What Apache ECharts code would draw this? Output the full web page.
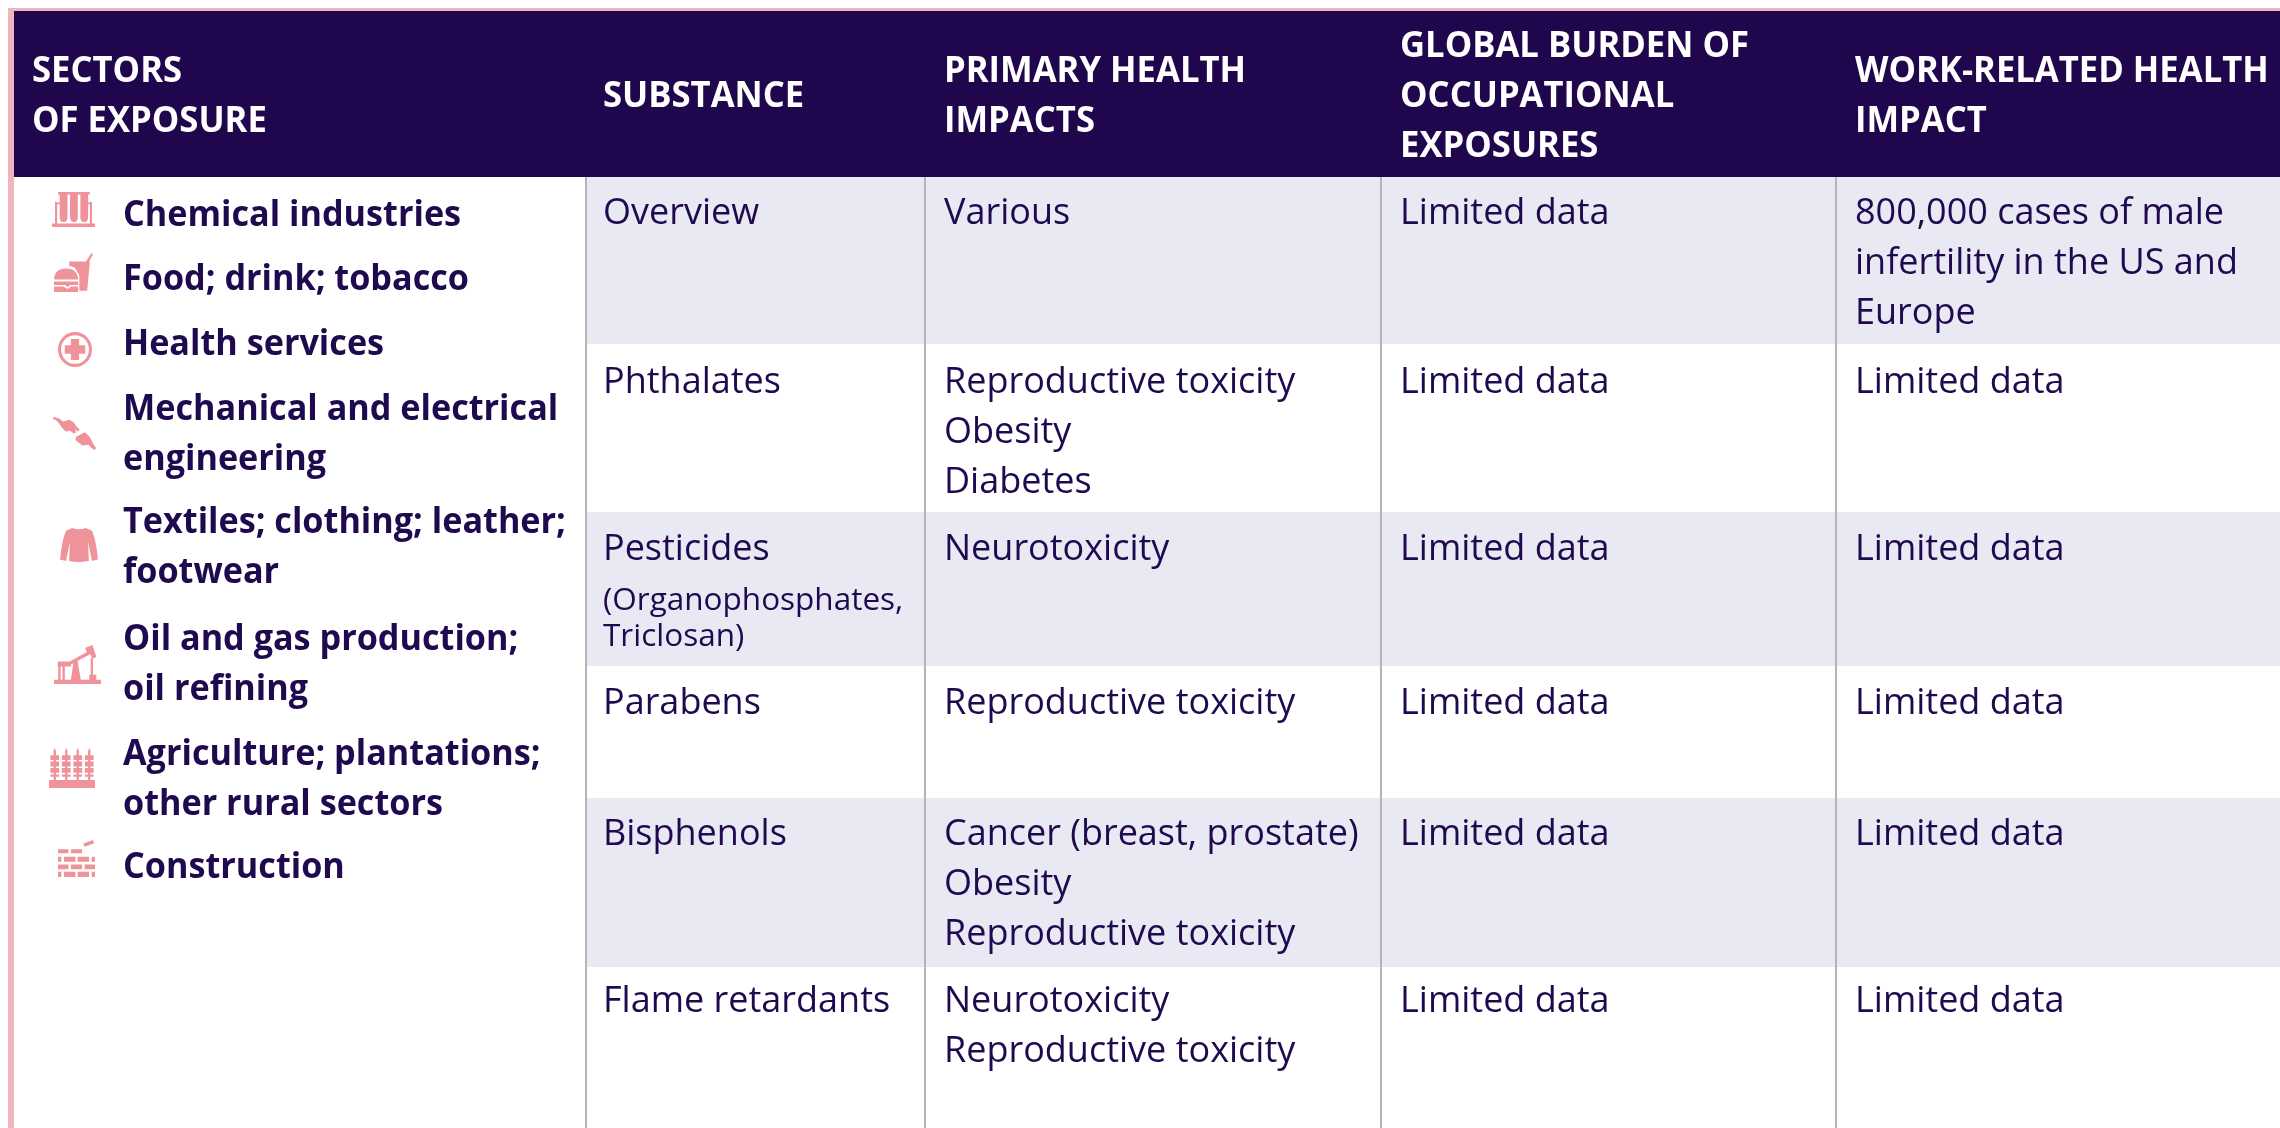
<!DOCTYPE html>
<html><head><meta charset="utf-8">
<style>html,body{margin:0;padding:0;background:#fff}#c{width:2280px;height:1128px}</style>
<script src="https://cdn.jsdelivr.net/npm/echarts@6/dist/echarts.min.js"></script>
</head><body><div id="c"></div>
<script>
// ---------- content ----------
const headers = [
  ['SECTORS','OF EXPOSURE'],
  ['SUBSTANCE'],
  ['PRIMARY HEALTH','IMPACTS'],
  ['GLOBAL BURDEN OF','OCCUPATIONAL','EXPOSURES'],
  ['WORK-RELATED HEALTH','IMPACT']
];
const sectorLines = ['Chemical industries','Food; drink; tobacco','Health services','Mechanical and electrical','engineering','Textiles; clothing; leather;','footwear','Oil and gas production;','oil refining','Agriculture; plantations;','other rural sectors','Construction'];
const substances = [['Overview'],['Phthalates'],['Pesticides'],['Parabens'],['Bisphenols'],['Flame retardants']];
const substanceNotes = [[],[],['(Organophosphates,','Triclosan)'],[],[],[]];
const impacts = [['Various'],['Reproductive toxicity','Obesity','Diabetes'],['Neurotoxicity'],['Reproductive toxicity'],['Cancer (breast, prostate)','Obesity','Reproductive toxicity'],['Neurotoxicity','Reproductive toxicity']];
const burden = [['Limited data'],['Limited data'],['Limited data'],['Limited data'],['Limited data'],['Limited data']];
const workImpact = [['800,000 cases of male','infertility in the US and','Europe'],['Limited data'],['Limited data'],['Limited data'],['Limited data'],['Limited data']];

// ---------- layout ----------
const W = 2280, H = 1128;
const columnLines = [586,925,1381,1836];
const textX = [32,603,944,1400,1855];
const rowEdges = [177,344,512,666,798,967,1128];
const firstLine = [214,383,550,704,835,1002];
const lineGap = 50;
const headerTop = 11, headerBottom = 177, headerMid = 97;
const sectorX = 123;
const sectorY = [216,280,345,410,460,523,573,640,690,755,805,868];
const noteY = [601,637];
const iconBoxes = [[52,192,43,35],[54,253,39,39],[58,332,34,35],[53,417,43,33],[60,528,38,34],[54,645,47,39],[49,748,46,40],[58,840,37,37]];
const iconPaths = [
  'M0 90H100V100H0ZM7 28H12V90H7ZM88 28H93V90H88ZM12 30H18V35H12ZM82 30H88V35H82ZM14 0H40V7H36V72Q36 86 27 86Q18 86 18 72V7H14ZM38 0H64V7H60V72Q60 86 51 86Q42 86 42 72V7H38ZM62 0H88V7H84V72Q84 86 75 86Q66 86 66 72V7H62Z',
  'M0 68Q2 40 31 40Q60 40 62 68ZM0 73H62V82H42L35 87L28 82H0ZM0 86H24L35 92L44 86H62V100H0ZM39 22H82L96 0L100 3L90 22H92L85 97H65V57L53 37L39 33Z',
  'M50 0A50 50 0 1 1 50 100A50 50 0 1 1 50 0ZM50 9A41 41 0 1 0 50 91A41 41 0 1 0 50 9ZM38 20H62V38H80V62H62V80H38V62H20V38H38Z',
  'M0 2L3 0Q14 2 24 14L38 8L48 16L54 28L62 38L58 44L50 36L54 46L48 50L40 42L30 44L20 32Q12 10 0 6ZM54 60L74 46L84 58L90 72Q94 84 100 94L97 100Q88 94 82 84L68 86L58 76L52 70Z',
  'M32 0Q50 8 68 0L84 8Q94 30 100 92L84 96L74 40L76 96Q50 102 24 96L26 40L16 96L0 92Q6 30 16 8Z',
  'M0 89H100V100H0ZM8 42H36V55H23V89H18V55H14V89H9V55H8ZM42 40H50L57 89H36ZM25 48L70 18L66 8L82 0L90 30L82 36L77 24L30 54ZM78 34H83V76H90V89H75V76H78Z',
  'M0 80H100V100H0ZM10 6L12.500 0L15 6V80H10ZM3 18H22V30H3ZM3 34H22V46H3ZM3 50H22V62H3ZM3 66H22V72H3ZM35 6L37.500 0L40 6V80H35ZM28 18H47V30H28ZM28 34H47V46H28ZM28 50H47V62H28ZM28 66H47V72H28ZM60 6L62.500 0L65 6V80H60ZM53 18H72V30H53ZM53 34H72V46H53ZM53 50H72V62H53ZM53 66H72V72H53ZM85 6L87.500 0L90 6V80H85ZM78 18H97V30H78ZM78 34H97V46H78ZM78 50H97V62H78ZM78 66H97V72H78Z',
  'M68 10L94 0L98 9L72 18ZM0 25H28V36H0ZM35 25H65V36H35ZM0 45H9V59H0ZM16 45H47V59H16ZM53 45H84V59H53ZM91 45H100V59H91ZM0 66H28V79H0ZM35 66H65V79H35ZM72 66H100V79H72ZM0 86H9V100H0ZM16 86H47V100H16ZM53 86H84V100H53ZM91 86H100V100H91Z'
];
// ---------- style ----------
const ink = '#1f0a4f', headBg = '#1f064d', band = '#e9e9f4', rule = '#b5b5b5', pink = '#f0b4bc', iconPink = '#ef9299';
const fontFamily = '"Open Sans"';
const sizeBody = 36, sizeNote = 31.5;
const weightBody = 500, weightBold = 700;
const squeezeBody = 1.0, squeezeSector = 0.95, squeezeHead = 0.962;

// ---------- cell lists ----------
const rects = [], texts = [], lines = [];
rects.push({x0:8,y0:8,x1:W,y1:headerTop,fill:pink});
rects.push({x0:8,y0:8,x1:14,y1:H,fill:pink});
rects.push({x0:14,y0:headerTop,x1:W,y1:headerBottom,fill:headBg});
for (let r=0;r<substances.length;r++) if (r%2===0) rects.push({x0:columnLines[0],y0:rowEdges[r],x1:W,y1:rowEdges[r+1],fill:band});
columnLines.forEach(x=>lines.push(x));
headers.forEach((h,c)=>{
  const top = headerMid - (h.length-1)*lineGap/2;
  h.forEach((t,i)=>texts.push({t,x:textX[c],y:top+i*lineGap,w:weightBold,fs:sizeBody,sq:squeezeHead,color:'#ffffff'}));
});
sectorLines.forEach((t,i)=>texts.push({t,x:sectorX,y:sectorY[i],w:weightBold,fs:sizeBody,sq:squeezeSector,color:ink}));
[substances,impacts,burden,workImpact].forEach((col,ci)=>col.forEach((cell,r)=>cell.forEach((t,i)=>
  texts.push({t,x:textX[ci+1],y:firstLine[r]+i*lineGap,w:weightBody,fs:sizeBody,sq:squeezeBody,color:ink}))));
substanceNotes.forEach(n=>n.forEach((t,i)=>texts.push({t,x:textX[1],y:noteY[i],w:weightBody,fs:sizeNote,sq:squeezeBody,color:ink})));

const baseAxis = {show:false,type:'value'};
const chart = echarts.init(document.getElementById('c'),null,{renderer:'canvas'});
chart.setOption({
  animation:false,
  backgroundColor:'#ffffff',
  grid:{left:0,right:0,top:0,bottom:0},
  xAxis:Object.assign({min:0,max:W},baseAxis),
  yAxis:Object.assign({min:0,max:H,inverse:true},baseAxis),
  series:[
    {type:'custom',name:'cells',coordinateSystem:'cartesian2d',silent:true,data:rects.map((_,i)=>[i]),
     renderItem(p,api){const d=rects[api.value(0)];const a=api.coord([d.x0,d.y0]),b=api.coord([d.x1,d.y1]);
       return {type:'rect',shape:{x:a[0],y:a[1],width:b[0]-a[0],height:b[1]-a[1]},style:{fill:d.fill}};}},
    {type:'custom',name:'rules',coordinateSystem:'cartesian2d',silent:true,data:lines.map(x=>[x]),
     renderItem(p,api){const a=api.coord([api.value(0),headerBottom]),b=api.coord([api.value(0),H]);
       return {type:'rect',shape:{x:a[0]-1,y:a[1],width:2,height:b[1]-a[1]},style:{fill:rule}};}},
    {type:'custom',name:'icons',coordinateSystem:'cartesian2d',silent:true,data:iconBoxes.map((_,i)=>[i]),
     renderItem(p,api){const i=api.value(0),b=iconBoxes[i];const a=api.coord([b[0],b[1]]);
       return {type:'path',shape:{pathData:iconPaths[i],layout:'cover',x:a[0],y:a[1],width:b[2],height:b[3]},style:{fill:iconPink}};}},
    {type:'custom',name:'text',coordinateSystem:'cartesian2d',silent:true,data:texts.map((_,i)=>[i]),
     renderItem(p,api){const d=texts[api.value(0)];const a=api.coord([d.x,d.y]);
       return {type:'text',x:a[0],y:a[1],scaleX:d.sq,scaleY:1,originX:0,originY:0,
         style:{text:d.t,x:0,y:0,fill:d.color,font:d.w+' '+d.fs+'px '+fontFamily,textAlign:'left',textVerticalAlign:'middle',verticalAlign:'middle'}};}}
  ]
});
</script></body></html>
